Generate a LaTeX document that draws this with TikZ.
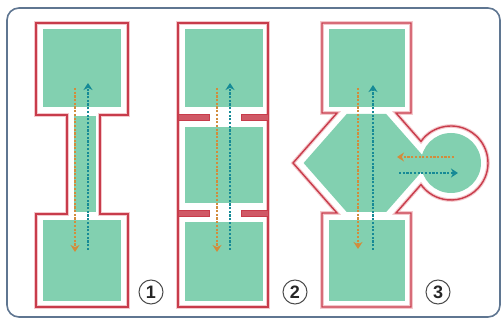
\documentclass[tikz,border=0pt]{standalone}
\usepackage{fontspec}
\setsansfont{Liberation Sans}
\usetikzlibrary{arrows.meta}
\definecolor{roomgreen}{RGB}{130,208,176}
\definecolor{wallred}{RGB}{200,60,75}
\definecolor{wallhalo}{RGB}{244,200,204}
\definecolor{framecol}{RGB}{95,118,145}
\definecolor{arrteal}{RGB}{22,138,150}
\definecolor{arrorange}{RGB}{210,140,60}
\begin{document}
\begin{tikzpicture}[x=1pt,y=1pt,
  halo/.style={draw=wallhalo, line width=3.6pt, line join=miter},
  wall/.style={draw=wallred, line width=1.4pt, line join=miter},
  room/.style={fill=roomgreen, draw=none},
  bar/.style={fill=wallred!85!white, draw=wallred, line width=0.6pt},
  flowo/.style={draw=arrorange, line width=2.3pt, dash pattern=on 2.2pt off 1.5pt,
    -{Stealth[length=7pt,width=9pt,inset=2.2pt]}},
  flowt/.style={draw=arrteal, line width=2.3pt, dash pattern=on 2.2pt off 1.5pt,
    -{Stealth[length=7pt,width=9pt,inset=2.2pt]}},
  num/.style={circle, draw=black!70, line width=1pt, minimum size=24pt, inner sep=0pt,
    font=\sffamily\bfseries\fontsize{18}{18}\selectfont, text=black!85}
]
\useasboundingbox (0,0) rectangle (503,-320);
\fill[white] (0,0) rectangle (503,-320);
% frame
\draw[framecol, line width=1.6pt, rounded corners=12pt] (7,-8) rectangle (500,-317);

% ---------- panel 1 ----------
\def\pone{(36,-23) -- (128,-23) -- (128,-115) -- (100,-115) -- (100,-214) -- (128,-214) -- (128,-307) -- (36,-307) -- (36,-214) -- (67,-214) -- (67,-115) -- (36,-115) -- cycle}
\draw[halo] \pone;
\fill[room] (43,-29) rectangle (121,-107);
\fill[room] (74,-116) rectangle (96,-212);
\fill[room] (43,-220) rectangle (121,-301);
\draw[wall] \pone;

% ---------- panel 2 ----------
\draw[halo] (178,-23) rectangle (268,-307);
\fill[room] (185,-29) rectangle (263,-107);
\fill[room] (185,-127) rectangle (263,-203);
\fill[room] (185,-222) rectangle (263,-301);
\draw[wall] (178,-23) rectangle (268,-307);
\draw[bar] (178,-114) rectangle (209,-120);
\draw[bar] (241,-114) rectangle (268,-120);
\draw[bar] (178,-210) rectangle (209,-216);
\draw[bar] (241,-210) rectangle (268,-216);

% ---------- panel 3 ----------
\def\pthree{(322,-23) -- (411,-23) -- (411,-113) -- (396,-113) -- (420.97,-141.38) arc[start angle=144.25, end angle=-144.25, radius=37] -- (396,-213) -- (411,-213) -- (411,-307) -- (322,-307) -- (322,-213) -- (337,-213) -- (293,-163) -- (337,-113) -- (322,-113) -- cycle}
\draw[halo] \pthree;
\fill[room] (329,-29) rectangle (405,-107);
\fill[room] (329,-220) rectangle (405,-301);
\fill[room] (346.7,-114) -- (386.2,-114) -- (429.3,-163) -- (386.2,-212) -- (346.7,-212) -- (303.6,-163) -- cycle;
\fill[room] (451,-163) circle[radius=30];
\draw[wall] \pthree;

% ---------- flow arrows ----------
\coordinate (o1s) at (75,-88);   \coordinate (o1e) at (75,-252);
\coordinate (t1s) at (88,-250);  \coordinate (t1e) at (88,-83);
\coordinate (o2s) at (217,-88);  \coordinate (o2e) at (217,-252);
\coordinate (t2s) at (230,-250); \coordinate (t2e) at (230,-83);
\coordinate (o3s) at (358,-88);  \coordinate (o3e) at (358,-249);
\coordinate (t3s) at (373,-250); \coordinate (t3e) at (373,-85);
\coordinate (o4s) at (454,-157); \coordinate (o4e) at (397,-157);
\coordinate (t4s) at (399,-173); \coordinate (t4e) at (458,-173);
\draw[flowo] (o1s) -- (o1e);
\draw[flowt] (t1s) -- (t1e);
\draw[flowo] (o2s) -- (o2e);
\draw[flowt] (t2s) -- (t2e);
\draw[flowo] (o3s) -- (o3e);
\draw[flowt] (t3s) -- (t3e);
\draw[flowo] (o4s) -- (o4e);
\draw[flowt] (t4s) -- (t4e);

% ---------- numbers ----------
\node[num] (n1) at (151,-292) {1};
\node[num] (n2) at (295,-292) {2};
\node[num] (n3) at (438,-292) {3};
\end{tikzpicture}
\end{document}
